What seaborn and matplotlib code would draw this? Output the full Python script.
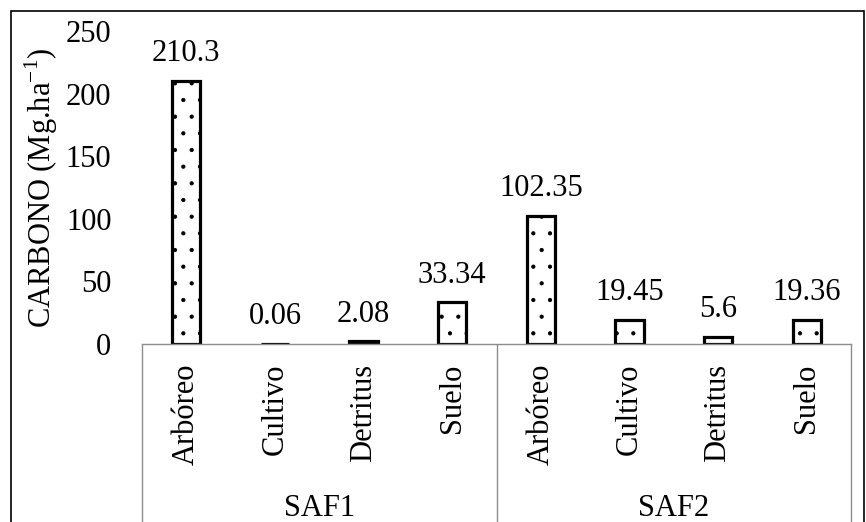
import matplotlib
matplotlib.use("Agg")
import matplotlib.pyplot as plt
import matplotlib.transforms as mtransforms
from matplotlib.patches import Rectangle
import pandas as pd
import seaborn as sns

# ── Data ──────────────────────────────────────────────────────────────────────
GROUPS = ["SAF1", "SAF1", "SAF1", "SAF1", "SAF2", "SAF2", "SAF2", "SAF2"]
COMPONENTS = ["Arbóreo", "Cultivo", "Detritus", "Suelo",
              "Arbóreo", "Cultivo", "Detritus", "Suelo"]
CARBON = [210.3, 0.06, 2.08, 33.34, 102.35, 19.45, 5.6, 19.36]
VALUE_LABELS = ["210.3", "0.06", "2.08", "33.34", "102.35", "19.45", "5.6", "19.36"]
GROUP_NAMES = ["SAF1", "SAF2"]

df = pd.DataFrame({"Grupo": GROUPS, "Componente": COMPONENTS, "Carbono": CARBON})
df["Key"] = df["Grupo"] + "|" + df["Componente"]
order = list(df["Key"])

FS = 22
GREY = "#8c8c8c"

# ── Style ─────────────────────────────────────────────────────────────────────
sns.set_theme(style="white")
plt.rcParams.update({
    "font.family": ["Liberation Serif", "DejaVu Serif"],
    "font.size": FS,
    "text.color": "black",
    "axes.labelcolor": "black",
    "xtick.color": "black",
    "ytick.color": "black",
    "hatch.linewidth": 0.6,
    "hatch.color": "black",
})

fig = plt.figure(figsize=(8.66, 5.22), dpi=100)
ax = fig.add_axes([142 / 866, 1 - 344 / 522, (851 - 142) / 866, (344 - 31) / 522])

sns.barplot(data=df, x="Key", y="Carbono", order=order, color="white",
            width=0.32, edgecolor="black", linewidth=2.3, ax=ax)
for bar in ax.patches:
    bar.set_hatch(".")

ax.bar_label(ax.containers[0], labels=VALUE_LABELS, padding=9, fontsize=FS)

ax.set_ylim(0, 250)
ax.set_yticks(range(0, 251, 50))
ax.set_xlim(-0.5, len(order) - 0.5)
ax.set_xlabel("")
ax.set_ylabel("CARBONO (Mg.ha$^{\\mathregular{-1}}$)", fontsize=FS, labelpad=4)
ax.tick_params(axis="y", length=0, pad=22, labelsize=FS)
ax.tick_params(axis="x", length=0, pad=14, labelsize=FS)
ax.set_xticks(range(len(order)))
ax.set_xticklabels(COMPONENTS, rotation=90, va="top")

for side in ("top", "right", "left"):
    ax.spines[side].set_visible(False)
ax.spines["bottom"].set_color(GREY)
ax.spines["bottom"].set_linewidth(1.0)

# multi-level category axis
trans = mtransforms.blended_transform_factory(ax.transData, ax.transAxes)
n_per = len(order) // len(GROUP_NAMES)
for i, g in enumerate(GROUP_NAMES):
    ax.text(i * n_per + (n_per - 1) / 2, -0.524, g, transform=trans,
            ha="center", va="center", fontsize=FS)
for b in range(len(GROUP_NAMES) + 1):
    ax.plot([b * n_per - 0.5] * 2, [0, -0.7], transform=trans,
            color=GREY, linewidth=1.0, clip_on=False)

# outer chart border
fig.patches.append(Rectangle((11 / 866, -0.05), (864 - 11) / 866, 1.05 - 11 / 522,
                             transform=fig.transFigure, fill=False,
                             edgecolor="black", linewidth=1.2))

fig.savefig("out.png", dpi=100)
